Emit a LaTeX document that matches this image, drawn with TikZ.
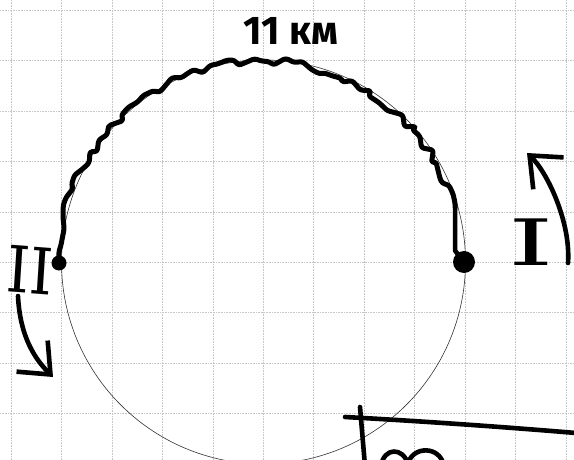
\documentclass[tikz,border=0pt]{standalone}
\usepackage{fontspec}
\setmainfont{Fira Sans}
\newfontfamily\romfont{DejaVu Serif}
\usepackage{tikz}
\usetikzlibrary{arrows.meta, decorations.pathmorphing, positioning, calc}

\begin{document}
\begin{tikzpicture}[x=1pt, y=-1pt,
  gridline/.style={gray!45, densely dotted, line width=0.6pt},
  track/.style={black!80, line width=0.6pt},
  wiggle/.style={black, line width=5pt, line join=round, line cap=round,
                 decorate, decoration={random steps, segment length=8pt, amplitude=4.8pt},
                 rounded corners=2.5pt},
  inkline/.style={black, line width=4.6pt, line cap=round, line join=round},
  handarrow/.style={inkline, -{Straight Barb[length=26pt, width=44pt]}},
  station/.style={circle, fill=black, inner sep=0pt},
  numeral/.style={font=\romfont\fontsize{64}{64}\selectfont, inner sep=0pt}
]
  \useasboundingbox (0,0) rectangle (574,460);
  \clip (0,0) rectangle (574,460);
  \pgfmathsetseed{11}

  % squared paper
  \foreach \gx in {0,...,11}
    \draw[gridline] ({11+50.45*\gx},0) -- ({11+50.45*\gx},460);
  \foreach \gy in {0,...,8}
    \draw[gridline] (0,{10+50.45*\gy}) -- (574,{10+50.45*\gy});

  % circuit
  \coordinate (c) at (263.5,262);
  \draw[track] (c) circle[radius=202];

  \node[station, minimum size=22pt] (one) at (464,262) {};
  \node[station, minimum size=15pt] (two) at (59,263) {};

  % driven part
  \draw[wiggle] (two.center) arc[start angle=180, end angle=344, radius=202]
    coordinate (bend);
  \draw[inkline] (bend) -- (bend |- one.north) -- (one.center);

  \node[font=\bfseries\fontsize{40}{40}\selectfont] (len) at (291,31) {11 км};

  % directions
  \node[numeral, xscale=1.8] (rI) at (531,242) {I};
  \node[numeral, xscale=0.92, rotate=-4] (rII) at (30,270) {II};

  \coordinate (upfrom) at (568,263);
  \coordinate (upto) at (527,153);
  \draw[handarrow] (upfrom) .. controls (571,222) and (547,172) .. (upto);

  \coordinate (downfrom) at (18,296);
  \coordinate (downto) at (53,377);
  \draw[handarrow] (downfrom) .. controls (20,338) and (36,360) .. (downto);

  % next sketch, cut off
  \draw[inkline] (345,417) .. controls (400,420) and (480,425) .. (576,433);
  \draw[inkline] (360,407) -- (365,466);
  \draw[inkline] (381,466) .. controls (384,447) and (403,447) .. (408,464)
    .. controls (412,446) and (440,445) .. (444,466);
\end{tikzpicture}
\end{document}
